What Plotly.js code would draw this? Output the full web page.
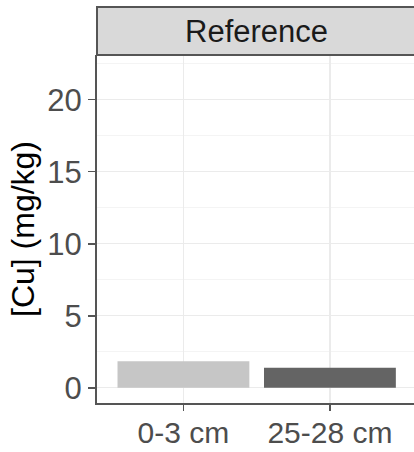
<!DOCTYPE html>
<html>
<head>
<meta charset="utf-8">
<script src="https://cdn.plot.ly/plotly-3.0.1.min.js"></script>
<style>
  html, body { margin: 0; padding: 0; overflow: hidden; background: #ffffff; }
  #chart { width: 414px; height: 452px; }
</style>
</head>
<body>
<div id="chart"></div>
<script>
// Copper concentration by sampling depth, "Reference" site
const depths = ['0-3 cm', '25-28 cm'];
const cuValues = [1.85, 1.4];
const barColors = ['#c6c6c6', '#646464'];
const panelTitle = 'Reference';
const yTickVals = [0, 5, 10, 15, 20];

const font = 'Liberation Sans, Arial, sans-serif';
const axisGrey = '#555555';

// strip height in paper units (48 px over a 348 px plot area)
const plotH = 452 - 55 - 49;
const stripH = 48 / plotH;

const trace = {
  type: 'bar',
  x: depths,
  y: cuValues,
  width: 0.9,
  marker: { color: barColors, line: { width: 0 } },
  hoverinfo: 'x+y'
};

const layout = {
  width: 414,
  height: 452,
  margin: { l: 97, r: 0, t: 55, b: 49 },
  paper_bgcolor: '#ffffff',
  plot_bgcolor: '#ffffff',
  showlegend: false,
  font: { family: font, color: '#4d4d4d' },
  xaxis: {
    type: 'category',
    range: [-0.59, 1.574],
    showgrid: true,
    gridcolor: '#ebebeb',
    gridwidth: 1.2,
    showline: true,
    linecolor: axisGrey,
    linewidth: 2,
    ticks: 'outside',
    ticklen: 6,
    tickwidth: 1.5,
    tickcolor: axisGrey,
    ticklabelstandoff: -4,
    tickfont: { family: font, size: 30, color: '#4d4d4d' },
    fixedrange: true
  },
  yaxis: {
    range: [-1.05, 23.1],
    tickvals: yTickVals,
    ticktext: yTickVals.map(String),
    showgrid: true,
    gridcolor: '#ebebeb',
    gridwidth: 1.2,
    minor: { dtick: 2.5, tick0: 0, showgrid: true, gridcolor: '#f4f4f4', gridwidth: 1 },
    zeroline: false,
    showline: true,
    linecolor: axisGrey,
    linewidth: 2,
    ticks: 'outside',
    ticklen: 7,
    tickwidth: 1.5,
    tickcolor: axisGrey,
    tickfont: { family: font, size: 31, color: '#4d4d4d' },
    title: { text: '[Cu] (mg/kg)', font: { family: font, size: 32, color: '#000000' }, standoff: 3 },
    fixedrange: true
  },
  shapes: [
    {
      // facet strip; its right end runs past the page edge
      type: 'rect', xref: 'paper', yref: 'paper',
      x0: 0, x1: 1.05, y0: 1, y1: 1 + stripH,
      fillcolor: '#d9d9d9',
      line: { color: '#555555', width: 2 },
      layer: 'above'
    }
  ],
  annotations: [
    {
      xref: 'x', yref: 'paper',
      x: 0.5, y: 1 + stripH / 2,
      xanchor: 'center', yanchor: 'middle',
      text: panelTitle,
      showarrow: false,
      font: { family: font, size: 31, color: '#1a1a1a' }
    }
  ]
};

Plotly.newPlot('chart', [trace], layout, { displayModeBar: false, staticPlot: true });
</script>
</body>
</html>
